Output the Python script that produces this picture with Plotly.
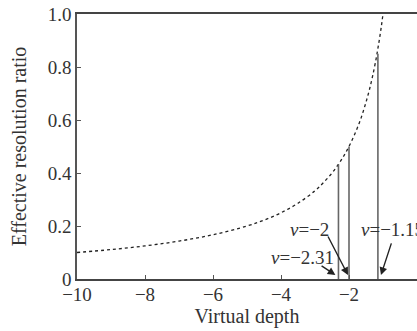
import plotly.graph_objects as go

# Curve: effective resolution ratio vs virtual depth
curve_v = [-10, -9, -8, -7, -6, -5, -4.5, -4, -3.5, -3, -2.75, -2.5, -2.31, -2.15, -2, -1.85, -1.7,
           -1.6, -1.5, -1.4, -1.3, -1.2, -1.15, -1.1, -1.05, -1.0]
curve_r = [0.100, 0.111, 0.125, 0.143, 0.167, 0.200, 0.222, 0.250, 0.286, 0.333, 0.364, 0.400,
           0.433, 0.465, 0.500, 0.541, 0.588, 0.625, 0.667, 0.714, 0.769, 0.833, 0.870, 0.909,
           0.952, 1.000]

# Marked depths and their vertical line heights
mark_v = [-2.31, -2.0, -1.15]
mark_r = [0.433, 0.50, 0.85]
mark_labels = ["<i>v</i>=−2.31", "<i>v</i>=−2", "<i>v</i>=−1.15"]

x_ticks = [-10, -8, -6, -4, -2, 0]
y_ticks = [0, 0.2, 0.4, 0.6, 0.8, 1.0]
y_ticktext = ["0", "0.2", "0.4", "0.6", "0.8", "1.0"]

FONT = "Liberation Serif"

fig = go.Figure()
fig.add_trace(go.Scatter(x=curve_v, y=curve_r, mode="lines",
                         line=dict(color="#222222", width=1.3, dash="dot", shape="spline"),
                         hoverinfo="skip", showlegend=False))
for v, r in zip(mark_v, mark_r):
    fig.add_trace(go.Scatter(x=[v, v], y=[0, r], mode="lines",
                             line=dict(color="#666666", width=1.6),
                             hoverinfo="skip", showlegend=False))

# text labels
text_pos = [(-3.38, 0.080, "center"), (-3.15, 0.185, "center"), (-1.70, 0.185, "left")]
for (tx, ty, al), lab in zip(text_pos, mark_labels):
    fig.add_annotation(x=tx, y=ty, text=lab, showarrow=False, xanchor=al,
                       font=dict(family=FONT, size=19, color="#333333"))

# arrows (tail -> head at the marked depth on the axis)
arrow_tails = [(-2.85, 0.053), (-2.64, 0.166), (-0.74, 0.140)]
arrow_heads = [(-2.40, 0.015), (-2.03, 0.015), (-1.06, 0.015)]
for (ax_, ay_), (hx, hy) in zip(arrow_tails, arrow_heads):
    fig.add_annotation(x=hx, y=hy, ax=ax_, ay=ay_, axref="x", ayref="y",
                       xref="x", yref="y", text="", showarrow=True,
                       arrowhead=2, arrowsize=1.1, arrowwidth=1.4, arrowcolor="#222222")

fig.update_xaxes(range=[-10, 0], tickvals=x_ticks, ticks="inside", ticklen=4,
                 tickcolor="#555555", showline=True, linecolor="#444444", linewidth=1.5,
                 mirror=True, showgrid=False, zeroline=False, ticklabelstandoff=-3,
                 title=dict(text="Virtual depth", font=dict(family=FONT, size=20, color="#333333"),
                            standoff=0),
                 tickfont=dict(family=FONT, size=19, color="#333333"))
fig.update_yaxes(range=[0, 1.0], tickvals=y_ticks, ticktext=y_ticktext, ticks="inside", ticklen=4,
                 tickcolor="#555555", showline=True, linecolor="#555555", linewidth=1.5,
                 showgrid=False, zeroline=False,
                 title=dict(text="Effective resolution ratio",
                            font=dict(family=FONT, size=20, color="#333333"), standoff=16),
                 tickfont=dict(family=FONT, size=19, color="#333333"))

fig.update_layout(width=417, height=331, margin=dict(l=77, r=0, t=14, b=52),
                  plot_bgcolor="white", paper_bgcolor="white", showlegend=False)

fig.write_html("out.html")
